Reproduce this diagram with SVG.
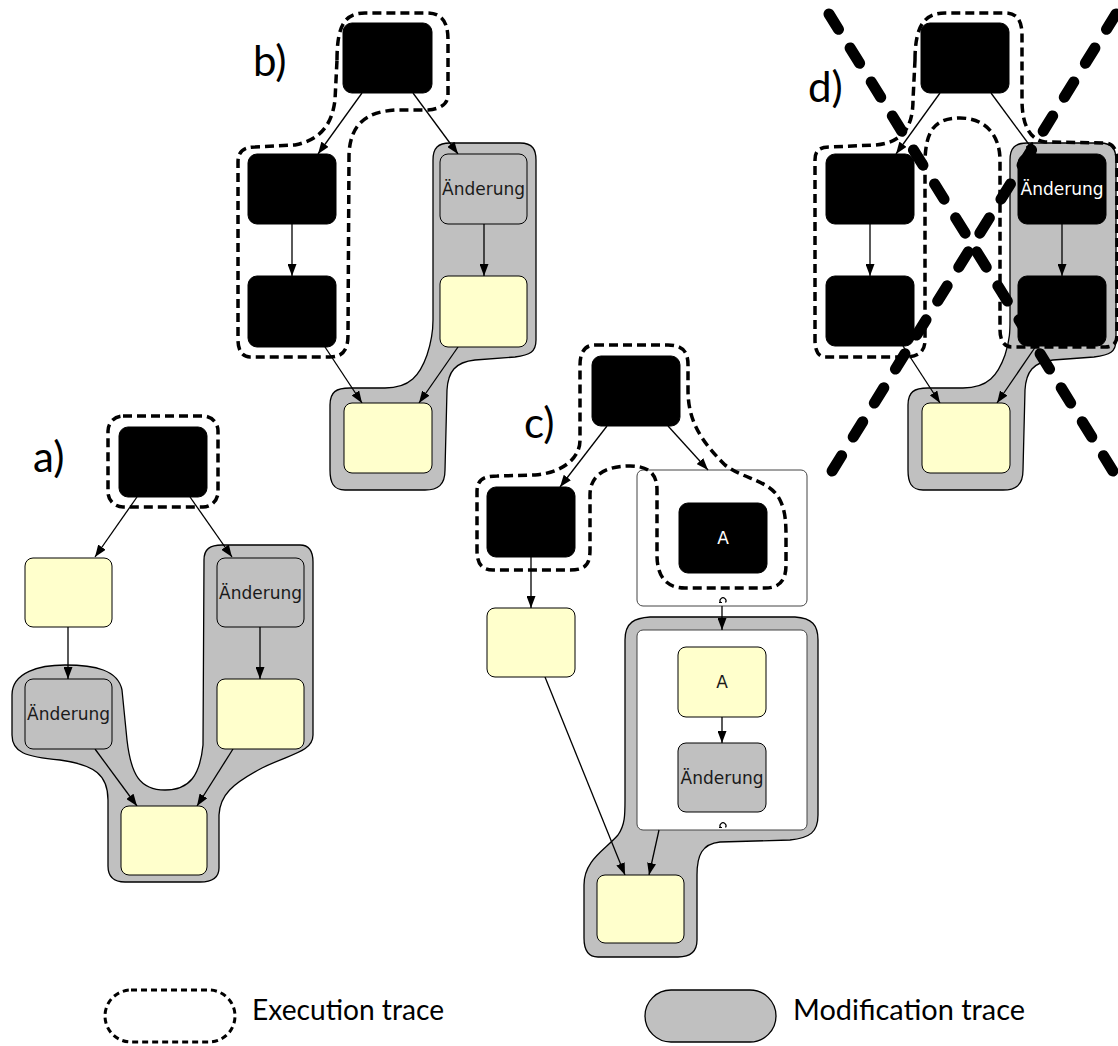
<svg xmlns="http://www.w3.org/2000/svg" width="1118" height="1046" viewBox="0 0 1118 1046">
<style>
.blk{fill:#000;stroke:#000;stroke-width:1}
.yel{fill:#ffffcc;stroke:#000;stroke-width:1}
.gry{fill:#c0c0c0;stroke:#000;stroke-width:1}
.mod{fill:#c0c0c0;stroke:#000;stroke-width:1.3}
.exe{fill:none;stroke:#000;stroke-width:3.5;stroke-dasharray:9 5}
.box{fill:#fff;stroke:#444;stroke-width:1}
.edge{fill:none;stroke:#000;stroke-width:1.3;marker-end:url(#ah)}
.nt{font-family:"DejaVu Sans",sans-serif;font-size:17px;text-anchor:middle;dominant-baseline:central;fill:#1a1a1a}
.nw{font-family:"DejaVu Sans",sans-serif;font-size:17px;text-anchor:middle;dominant-baseline:central;fill:#fff}
.lab{font-family:Lato,"Open Sans",sans-serif;font-size:42px;fill:#000}
.leg{font-family:Lato,"Open Sans",sans-serif;font-size:28px;fill:#000}
.x{fill:none;stroke:#000;stroke-width:11;stroke-linecap:round;stroke-dasharray:18 22}
.loop{fill:none;stroke:#000;stroke-width:1.2}
</style>
<defs>
<marker id="ah" markerUnits="userSpaceOnUse" markerWidth="12" markerHeight="9" refX="12" refY="4.5" orient="auto">
<path d="M0,0 L12,4.5 L0,9 z" fill="#000"/>
</marker>
</defs>

<g id="traces">
<path id="mod-a" class="mod" d="M204,560 C204,549 210,545 222,545 L300,545 C310,545 313,552 313,562 L313,735 C313,752 290,754 262,768 C232,784 220,795 219,815 L219,868 C219,878 212,882 200,882 L125,882 C113,882 108,876 108,866 L108,800 C108,775 95,765 60,760 C25,757 12,752 12,735 L12,695 C12,672 40,665 65,665 C95,665 118,670 122,690 L127,740 C131,775 140,790 165,790 C190,790 200,775 203,745 Z"/>
<path id="mod-b" class="mod" d="M433,160 C433,148 438,143 450,143 L520,143 C533,143 536,150 536,160 L536,340 C536,352 530,355 515,357 L475,360 C455,362 448,372 447,390 L445,470 C445,485 438,490 425,490 L345,490 C333,490 330,482 330,470 L330,405 C330,392 336,388 350,388 L385,388 C410,388 420,375 427,355 C432,340 433,330 433,320 Z"/>
<path id="mod-c" class="mod" d="M625,640 C625,622 635,618 650,617 L795,617 C812,618 818,625 818,640 L818,815 C818,832 810,838 790,840 L720,842 C702,844 697,855 697,875 L697,940 C697,952 690,957 678,957 L598,957 C588,957 584,950 584,938 L584,885 C584,860 605,850 618,835 C625,825 625,815 625,800 Z"/>
<path id="mod-d" class="mod" d="M1010,160 C1010,148 1015,143 1027,143 L1100,143 C1113,143 1116,150 1116,160 L1116,340 C1116,352 1110,355 1094,357 L1053,360 C1033,362 1026,372 1025,390 L1023,470 C1023,485 1016,490 1003,490 L923,490 C911,490 908,482 908,470 L908,405 C908,392 914,388 928,388 L963,388 C988,388 998,375 1005,355 C1010,340 1010,330 1010,320 Z"/>
</g>

<g id="containers">
<rect id="c-box1" class="box" x="637" y="470" width="170" height="136" rx="6"/>
<rect id="c-box2" class="box" x="637" y="630" width="170" height="200" rx="6"/>
<path class="loop" d="M720.5,602.5 A3,3 0 1 1 725.5,602.5 M719,602.5 L722,602.5"/>
<path class="loop" d="M720.5,827.5 A3,3 0 1 1 725.5,827.5 M719,827.5 L722,827.5"/>
</g>

<g id="exec-traces">
<rect id="exe-a" class="exe" x="108" y="416" width="110" height="91" rx="15"/>
<path id="exe-b" class="exe" d="M337,60 C337,25 345,13 365,13 L427,13 C442,13 448,22 448,40 L448,95 C448,104 440,109 428,110 L395,110 C365,112 350,125 349,155 L348,335 C348,350 343,357 330,357 L250,357 C242,357 238,350 238,340 L238,162 C238,152 243,147 255,147 L295,145 C320,140 332,125 335,100 Z"/>
<path id="exe-c" class="exe" d="M595,345 L668,345 C683,345 688,352 688,365 L688,390 C688,420 700,440 725,465 C745,480 770,480 780,500 C786,512 786,525 786,540 L786,565 C786,580 780,588 765,588 L685,588 C665,588 657,575 657,555 L657,490 C657,475 650,466 630,466 C605,466 590,475 590,495 L590,550 C590,565 585,570 570,570 L493,570 C481,570 477,563 477,550 L477,492 C477,480 483,476 497,476 L535,475 C560,473 580,460 580,440 L580,365 C580,352 585,345 595,345 Z"/>
<path id="exe-d" class="exe" d="M915,60 C915,25 925,13 945,13 L1005,13 C1018,13 1022,22 1022,35 L1022,100 C1022,125 1030,140 1045,142 L1105,143 C1113,143 1117,150 1117,160 L1117,335 C1117,343 1113,347 1105,347 L1012,347 C1004,347 1000,340 1000,330 L1000,160 C1000,135 985,118 960,118 C935,118 926,130 925,160 L925,340 C925,352 918,357 905,357 L825,357 C818,357 815,350 815,340 L815,160 C815,150 820,147 830,147 L875,145 C900,143 913,130 913,100 Z"/>
</g>

<g id="connectors">
<path class="edge" d="M137,497 L95,557"/>
<path class="edge" d="M190,497 L232,557"/>
<path class="edge" d="M68,627 L68,679"/>
<path class="edge" d="M260,627 L260,679"/>
<path class="edge" d="M95,749 L137,806"/>
<path class="edge" d="M233,749 L197,806"/>

<path class="edge" d="M362,93 L318,154"/>
<path class="edge" d="M413,93 L458,154"/>
<path class="edge" d="M292,224 L292,276"/>
<path class="edge" d="M484,224 L484,276"/>
<path class="edge" d="M325,347 L362,403"/>
<path class="edge" d="M458,347 L419,403"/>

<path class="edge" d="M607,426 L560,487"/>
<path class="edge" d="M668,426 L708,470"/>
<path class="edge" d="M531,557 L531,608"/>
<path class="edge" d="M722,606 L722,630"/>
<path class="edge" d="M722,717 L722,743"/>
<path class="edge" d="M545,677 L625,875"/>
<path class="edge" d="M659,830 L649,875"/>

<path class="edge" d="M940,93 L896,154"/>
<path class="edge" d="M991,93 L1036,154"/>
<path class="edge" d="M870,224 L870,276"/>
<path class="edge" d="M1062,224 L1062,276"/>
<path class="edge" d="M903,346 L940,403"/>
<path class="edge" d="M1036,346 L997,403"/>
</g>

<g id="a-top"><rect class="blk" x="119" y="427" width="88" height="70" rx="9"/></g>
<g id="a-left1"><rect class="yel" x="25" y="558" width="87" height="69" rx="8"/></g>
<g id="a-right1"><rect class="gry" x="217" y="558" width="87" height="69" rx="8"/><text class="nt" x="260.5" y="592.5">Änderung</text></g>
<g id="a-left2"><rect class="gry" x="25" y="679" width="87" height="70" rx="8"/><text class="nt" x="68.5" y="714">Änderung</text></g>
<g id="a-right2"><rect class="yel" x="217" y="679" width="87" height="70" rx="8"/></g>
<g id="a-bottom"><rect class="yel" x="121" y="806" width="86" height="69" rx="8"/></g>

<g id="b-top"><rect class="blk" x="343" y="23" width="89" height="70" rx="9"/></g>
<g id="b-left1"><rect class="blk" x="248" y="154" width="88" height="70" rx="9"/></g>
<g id="b-left2"><rect class="blk" x="248" y="276" width="88" height="71" rx="9"/></g>
<g id="b-right1"><rect class="gry" x="440" y="154" width="87" height="70" rx="8"/><text class="nt" x="483.5" y="189">Änderung</text></g>
<g id="b-right2"><rect class="yel" x="440" y="276" width="87" height="71" rx="8"/></g>
<g id="b-bottom"><rect class="yel" x="344" y="403" width="88" height="70" rx="8"/></g>

<g id="c-top"><rect class="blk" x="592" y="356" width="88" height="70" rx="9"/></g>
<g id="c-left1"><rect class="blk" x="487" y="487" width="88" height="70" rx="9"/></g>
<g id="c-left2"><rect class="yel" x="487" y="608" width="88" height="69" rx="8"/></g>
<g id="c-a1"><rect class="blk" x="679" y="503" width="88" height="70" rx="9"/><text class="nw" x="723" y="538">A</text></g>
<g id="c-a2"><rect class="yel" x="678" y="647" width="88" height="70" rx="8"/><text class="nt" x="722" y="682">A</text></g>
<g id="c-change"><rect class="gry" x="678" y="743" width="88" height="69" rx="8"/><text class="nt" x="722" y="777.5">Änderung</text></g>
<g id="c-bottom"><rect class="yel" x="597" y="875" width="87" height="68" rx="8"/></g>

<g id="d-top"><rect class="blk" x="921" y="23" width="88" height="70" rx="9"/></g>
<g id="d-left1"><rect class="blk" x="826" y="154" width="88" height="70" rx="9"/></g>
<g id="d-left2"><rect class="blk" x="826" y="276" width="88" height="70" rx="9"/></g>
<g id="d-right1"><rect class="blk" x="1018" y="154" width="88" height="70" rx="9"/><text class="nw" x="1062" y="189">Änderung</text></g>
<g id="d-right2"><rect class="blk" x="1018" y="276" width="88" height="70" rx="9"/></g>
<g id="d-bottom"><rect class="yel" x="922" y="403" width="88" height="70" rx="8"/></g>

<g id="labels">
<text class="lab" x="33" y="472">a)</text>
<text class="lab" x="253" y="76">b)</text>
<text class="lab" x="524" y="438">c)</text>
<text class="lab" x="808" y="102">d)</text>
</g>

<g id="cross">
<path class="x" d="M829,14 L1116,476"/>
<path class="x" d="M1116,14 L829,476"/>
</g>

<g id="legend">
<rect class="exe" x="105" y="990" width="130" height="52" rx="26" style="stroke-width:3;stroke-dasharray:6 4"/>
<text class="leg" x="252" y="1020" textLength="192" lengthAdjust="spacingAndGlyphs">Execution trace</text>
<rect class="mod" x="645" y="990" width="131" height="52" rx="26"/>
<text class="leg" x="793" y="1020" textLength="232" lengthAdjust="spacingAndGlyphs">Modification trace</text>
</g>
</svg>
